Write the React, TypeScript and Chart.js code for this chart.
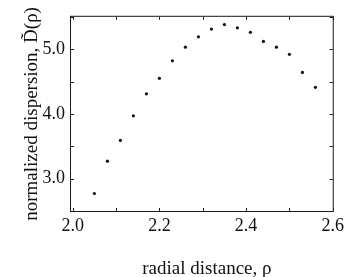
import React, { useEffect, useRef } from 'react';
import { Chart, registerables } from 'chart.js';

Chart.register(...registerables);

const radialDistance = [2.05, 2.08, 2.11, 2.14, 2.17, 2.2, 2.23, 2.26, 2.29, 2.32, 2.35, 2.38, 2.41, 2.44, 2.47, 2.5, 2.53, 2.56];
const dispersion = [2.77, 3.27, 3.59, 3.97, 4.31, 4.55, 4.82, 5.03, 5.19, 5.31, 5.38, 5.33, 5.26, 5.12, 5.03, 4.92, 4.64, 4.41];
const xTickLabels = [2.0, 2.2, 2.4, 2.6];
const yTickLabels = [3.0, 4.0, 5.0];
const xMinorTicks = [2.0, 2.1, 2.2, 2.3, 2.4, 2.5, 2.6];
const yMinorTicks = [2.5, 3.0, 3.5, 4.0, 4.5, 5.0, 5.5];
const xTitle = 'radial distance, ρ';
const yTitle = 'normalized dispersion, D\u0303(ρ)';

const FONT = '"Liberation Serif", "Times New Roman", Times, serif';

const framePlugin = {
  id: 'frameTicks',
  afterDraw(chart: any) {
    const { ctx, chartArea } = chart;
    const { left, right, top, bottom } = chartArea;
    const xs = chart.scales.x;
    const ys = chart.scales.y;
    const len = 3;
    ctx.save();
    ctx.strokeStyle = '#1a1a1a';
    ctx.lineWidth = 1;
    ctx.strokeRect(left - 0.5, top - 0.5, right - left + 1, bottom - top + 1);
    ctx.beginPath();
    xMinorTicks.forEach((v) => {
      const px = Math.round(xs.getPixelForValue(v)) + 0.5;
      ctx.moveTo(px, bottom);
      ctx.lineTo(px, bottom - len);
      ctx.moveTo(px, top);
      ctx.lineTo(px, top + len);
    });
    yMinorTicks.forEach((v) => {
      const py = Math.round(ys.getPixelForValue(v)) + 0.5;
      ctx.moveTo(left, py);
      ctx.lineTo(left + len, py);
      ctx.moveTo(right, py);
      ctx.lineTo(right - len, py);
    });
    ctx.stroke();
    // x-axis title (slightly right of the plot centre, as in the reference)
    ctx.fillStyle = '#111';
    ctx.font = `19px ${FONT}`;
    ctx.textAlign = 'center';
    ctx.textBaseline = 'alphabetic';
    ctx.fillText(xTitle, (left + right) / 2 + 5, xs.bottom - 3);
    ctx.restore();
  },
};

export default function App() {
  const ref = useRef<HTMLCanvasElement>(null);
  useEffect(() => {
    let chart: Chart | null = null;
    let cancelled = false;
    const build = () => {
      if (cancelled || !ref.current) return;
      Chart.defaults.font.family = FONT;
      chart = new Chart(ref.current, {
        type: 'scatter',
        data: {
          datasets: [
            {
              data: radialDistance.map((x, i) => ({ x, y: dispersion[i] })),
              backgroundColor: '#111',
              borderColor: '#111',
              pointRadius: 1.6,
              pointBorderWidth: 0,
            },
          ],
        },
        options: {
          animation: false,
          responsive: false,
          devicePixelRatio: 1,
          layout: { padding: { top: 1, right: 10, left: 0, bottom: 0 } },
          plugins: { legend: { display: false }, tooltip: { enabled: false } },
          scales: {
            x: {
              type: 'linear',
              min: 1.996,
              max: 2.6,
              grid: { display: false, drawTicks: false },
              border: { display: false },
              afterBuildTicks: (s: any) => {
                s.ticks = xTickLabels.map((v) => ({ value: v }));
              },
              afterFit: (s: any) => {
                s.height = 66;
              },
              ticks: {
                padding: 4,
                color: '#111',
                font: { family: FONT, size: 18 },
                callback: (v: any) => Number(v).toFixed(1),
              },
              title: { display: false, text: xTitle },
            },
            y: {
              type: 'linear',
              min: 2.5,
              max: 5.5,
              grid: { display: false, drawTicks: false },
              border: { display: false },
              afterBuildTicks: (s: any) => {
                s.ticks = yTickLabels.map((v) => ({ value: v }));
              },
              afterFit: (s: any) => {
                s.width = 71;
              },
              ticks: {
                padding: 6,
                color: '#111',
                font: { family: FONT, size: 18 },
                callback: (v: any) => Number(v).toFixed(1),
              },
              title: {
                display: true,
                text: yTitle,
                color: '#111',
                font: { family: FONT, size: 19 },
                padding: { top: 21, bottom: 0 },
              },
            },
          },
        },
        plugins: [framePlugin],
      });
    };
    const fonts: any = (document as any).fonts;
    if (fonts && fonts.load) {
      Promise.all([
        fonts.load('18px "Liberation Serif"', '0123456789.'),
        fonts.load('19px "Liberation Serif"', 'radial distance, ρ'),
      ])
        .catch(() => undefined)
        .then(build);
    } else {
      build();
    }
    return () => {
      cancelled = true;
      if (chart) chart.destroy();
    };
  }, []);
  return (
    <div style={{ position: 'absolute', left: 0, top: 0, width: 348, height: 277 }}>
      <canvas ref={ref} width={348} height={277} style={{ display: 'block' }} />
    </div>
  );
}
